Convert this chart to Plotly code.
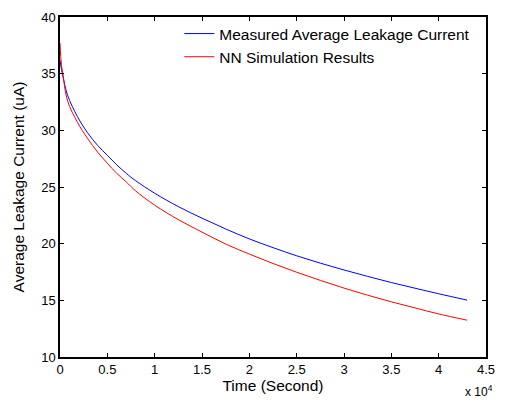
import plotly.graph_objects as go

time_s = [0, 150, 300, 800, 1850, 2900, 4000, 5000, 6000, 7000, 8000,
          10000, 12500, 15000, 17500, 20000, 22500, 25000, 27500, 30000,
          32500, 35000, 37500, 40000, 43000]
measured = [36.2, 35.4, 34.8, 33.1, 31.2, 29.8, 28.65, 27.8, 26.95, 26.2, 25.55,
            24.45, 23.27, 22.25, 21.3, 20.42, 19.65, 18.93, 18.28, 17.68,
            17.11, 16.57, 16.07, 15.58, 15.02]
nn_sim = [37.7, 35.8, 35.0, 32.6, 30.7, 29.3, 28.05, 27.1, 26.2, 25.45, 24.65,
          23.4, 22.12, 21.02, 19.97, 19.08, 18.25, 17.48, 16.76, 16.08,
          15.45, 14.87, 14.33, 13.8, 13.25]

x_tickvals = [0, 5000, 10000, 15000, 20000, 25000, 30000, 35000, 40000, 45000]
x_ticktext = ["0", "0.5", "1", "1.5", "2", "2.5", "3", "3.5", "4", "4.5"]
y_tickvals = [10, 15, 20, 25, 30, 35, 40]

font_family = "Liberation Sans, Arial, sans-serif"

fig = go.Figure()
fig.add_trace(go.Scatter(x=time_s, y=measured, mode="lines",
                         line=dict(color="#0000ff", width=1, shape="spline"),
                         name="Measured Average Leakage Current"))
fig.add_trace(go.Scatter(x=time_s, y=nn_sim, mode="lines",
                         line=dict(color="#ff0000", width=1, shape="spline"),
                         name="NN Simulation Results"))

axis_common = dict(showgrid=False, zeroline=False, showline=True, linecolor="black", linewidth=1.5,
                   mirror="ticks", ticks="inside", ticklen=4, tickcolor="black",
                   tickfont=dict(family=font_family, size=13, color="black"))

fig.update_layout(
    width=505, height=401,
    margin=dict(l=60, r=10, t=14, b=44),
    paper_bgcolor="white", plot_bgcolor="white",
    font=dict(family=font_family, size=13, color="black"),
    xaxis=dict(range=[0, 45000], tickvals=x_tickvals, ticktext=x_ticktext,
               title=dict(text="Time (Second)", font=dict(size=15.5), standoff=3), **axis_common),
    yaxis=dict(range=[10, 40], tickvals=y_tickvals,
               title=dict(text="Average Leakage Current (uA)", font=dict(size=15.5), standoff=13), **axis_common),
    legend=dict(x=0.28, y=1.0, xanchor="left", yanchor="top", bgcolor="rgba(0,0,0,0)",
                font=dict(family=font_family, size=15.5), borderwidth=0, tracegroupgap=0),
    showlegend=True,
    annotations=[dict(text="x 10<sup>4</sup>", xref="paper", yref="paper", x=1.02, y=-0.1,
                      xanchor="right", yanchor="middle", showarrow=False,
                      font=dict(family=font_family, size=12, color="black"))],
)

fig.write_html("out.html", config={"displayModeBar": False},
               post_script="document.body.style.margin='0';")
